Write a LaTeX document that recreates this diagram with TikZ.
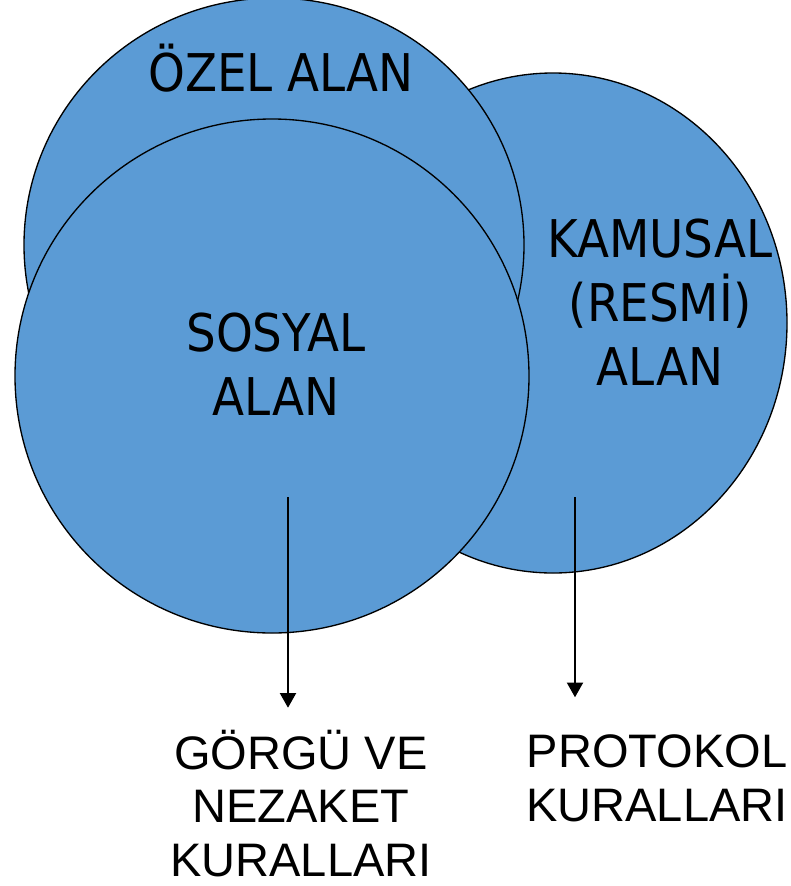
\documentclass[tikz,border=0pt]{standalone}
\usepackage{fontspec}
\setmainfont{Liberation Sans}
\newfontfamily\alanfont{DejaVu Sans}[FakeStretch=0.9]
\usetikzlibrary{arrows.meta}
\definecolor{alanmavi}{HTML}{5B9BD5}
\begin{document}
\begin{tikzpicture}[x=0.75pt,y=-0.75pt,>={Triangle[width=12pt,length=11pt]}, line join=round]
	\tikzset{alan/.style={fill=alanmavi,draw=black,line width=1pt},
		etiket/.style={font=\alanfont\fontsize{39}{48}\selectfont,align=center,inner sep=0pt,anchor=base},
		kural/.style={font=\fontsize{35.25}{40}\selectfont,align=center,inner sep=0pt,anchor=base},
		ok/.style={->,line width=1.5pt}}
	\useasboundingbox (0,0) rectangle (790,886);
	% daireler
	\draw[alan] (553,323) ellipse [x radius=234, y radius=250];
	\draw[alan] (274,245) ellipse [x radius=250, y radius=247];
	\draw[alan] (272,376) circle [radius=257];
	% yazilar (base = son satir)
	\node[etiket] (ozel) at (281,91) {ÖZEL ALAN};
	\node[etiket] (sosyal) at (276,415) {SOSYAL\\ALAN};
	\node[etiket] (kamusal) at (660,385) {KAMUSAL\\(RESMİ)\\ALAN};
	\node[kural] (gorgu) at (301,876) {GÖRGÜ VE\\NEZAKET\\KURALLARI};
	\node[kural] (protokol) at (657,821) {PROTOKOL\\KURALLARI};
	% oklar
	\coordinate (sosyal-kuyruk) at (288,497);
	\coordinate (kamusal-kuyruk) at (575,497);
	\draw[ok,shorten >=16.5pt] (sosyal-kuyruk) -- (sosyal-kuyruk |- gorgu.north);
	\draw[ok,shorten >=28pt] (kamusal-kuyruk) -- (kamusal-kuyruk |- protokol.north);
\end{tikzpicture}
\end{document}
